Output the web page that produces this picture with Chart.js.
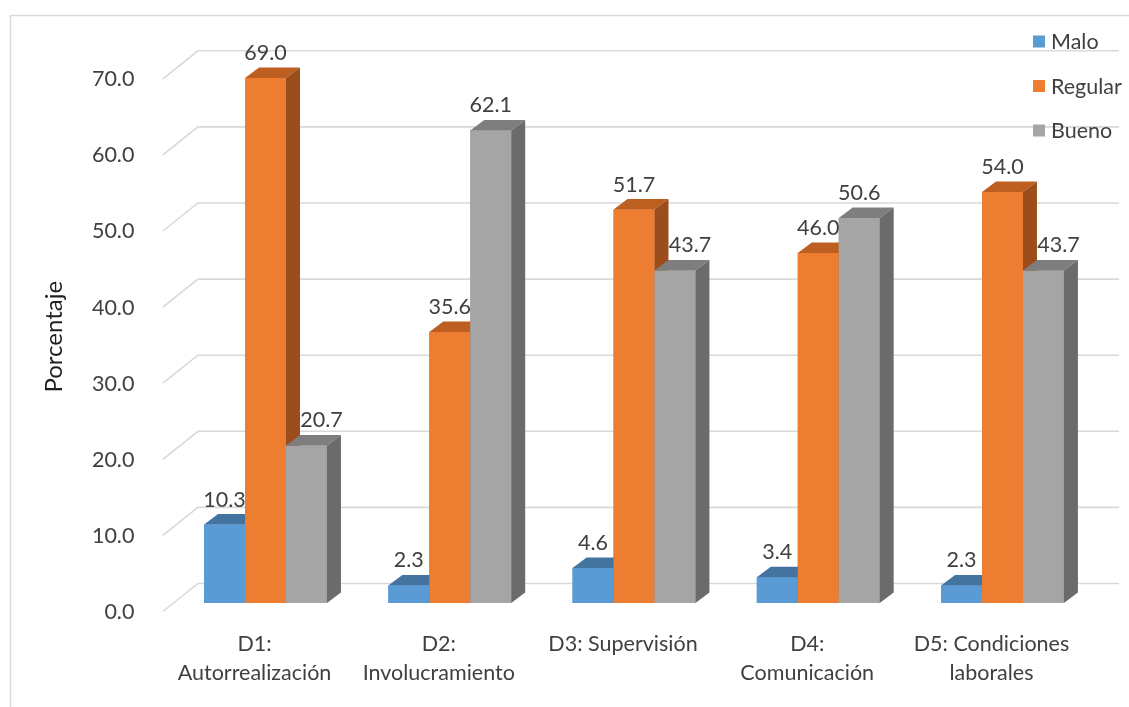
<!DOCTYPE html>
<html>
<head>
<meta charset="utf-8">
<script src="https://cdn.jsdelivr.net/npm/chart.js@4.4.1/dist/chart.umd.min.js"></script>
<style>
  html, body { margin: 0; padding: 0; background: #ffffff; }
  #wrap { width: 1129px; height: 707px; position: relative; }
</style>
</head>
<body>
<div id="wrap"><canvas id="chart" width="1129" height="707"></canvas></div>
<script>
// Dimensiones del clima laboral
const categories = [
  ['D1:', 'Autorrealización'],
  ['D2:', 'Involucramiento'],
  'D3: Supervisión',
  ['D4:', 'Comunicación'],
  ['D5: Condiciones', 'laborales']
];
const seriesNames = ['Malo', 'Regular', 'Bueno'];
const malo    = [10.3, 2.3, 4.6, 3.4, 2.3];
const regular = [69.0, 35.6, 51.7, 46.0, 54.0];
const bueno   = [20.7, 62.1, 43.7, 50.6, 43.7];
const yTickValues = [0, 10, 20, 30, 40, 50, 60, 70];

// Face colours: front, top, side
const faceColors = [
  { front: '#5b9bd5', top: '#43749f', side: '#3c6a94' },
  { front: '#ed7d31', top: '#bd5f20', side: '#9b4e1b' },
  { front: '#a5a5a5', top: '#7e7e7e', side: '#6b6b6b' }
];

const FONT = 'Lato';
const TEXT = '#404040';
const GRID = '#d9d9d9';

// Perspective offsets relative to the bar plane
const FRONT_EDGE = { x: -10.5, y: 8.5 };
const BACK_WALL  = { x: 24.5, y: -19.5 };
const BAR_DEPTH  = { x: 14, y: -10.5 };

Chart.defaults.font.family = FONT;
Chart.defaults.color = TEXT;

function fillPoly(ctx, pts, color) {
  ctx.beginPath();
  ctx.moveTo(pts[0][0], pts[0][1]);
  for (let i = 1; i < pts.length; i++) ctx.lineTo(pts[i][0], pts[i][1]);
  ctx.closePath();
  ctx.fillStyle = color;
  ctx.fill();
}

// Frame, back wall gridlines and their slanted floor edges
const wallPlugin = {
  id: 'wall3d',
  beforeDraw(chart) {
    const ctx = chart.ctx;
    ctx.save();
    ctx.fillStyle = '#ffffff';
    ctx.fillRect(0, 0, chart.width, chart.height);
    ctx.strokeStyle = GRID;
    ctx.lineWidth = 1.5;
    ctx.beginPath();
    ctx.moveTo(10.5, chart.height);
    ctx.lineTo(10.5, 15.5);
    ctx.lineTo(chart.width, 15.5);
    ctx.stroke();
    ctx.restore();
  },
  beforeDatasetsDraw(chart) {
    const { ctx, chartArea: a, scales: { y } } = chart;
    ctx.save();
    ctx.strokeStyle = GRID;
    ctx.lineWidth = 1.6;
    y.ticks.forEach(t => {
      const py = y.getPixelForValue(t.value);
      ctx.beginPath();
      ctx.moveTo(a.left + FRONT_EDGE.x, py + FRONT_EDGE.y);
      ctx.lineTo(a.left + BACK_WALL.x, py + BACK_WALL.y);
      ctx.lineTo(a.right + BACK_WALL.x, py + BACK_WALL.y);
      ctx.stroke();
    });
    ctx.restore();
  }
};

// Extruded bars, value labels and legend
const barsPlugin = {
  id: 'bars3d',
  afterDatasetsDraw(chart) {
    const ctx = chart.ctx;
    const n = chart.data.labels.length;
    ctx.save();
    for (let i = 0; i < n; i++) {
      chart.data.datasets.forEach((ds, di) => {
        const el = chart.getDatasetMeta(di).data[i];
        const { x, y, base, width } = el.getProps(['x', 'y', 'base', 'width'], true);
        const xl = x - width / 2, xr = x + width / 2;
        const c = faceColors[di];
        ctx.fillStyle = c.front;
        ctx.fillRect(xl, y, width, base - y);
        fillPoly(ctx, [[xl, y], [xr, y], [xr + BAR_DEPTH.x, y + BAR_DEPTH.y], [xl + BAR_DEPTH.x, y + BAR_DEPTH.y]], c.top);
        fillPoly(ctx, [[xr, y], [xr + BAR_DEPTH.x, y + BAR_DEPTH.y], [xr + BAR_DEPTH.x, base + BAR_DEPTH.y], [xr, base]], c.side);
      });
    }
    ctx.restore();
  },
  afterDraw(chart) {
    const ctx = chart.ctx;
    const datasets = chart.data.datasets;
    ctx.save();
    ctx.font = '21.5px ' + FONT;
    ctx.fillStyle = TEXT;
    ctx.textAlign = 'center';
    ctx.textBaseline = 'middle';
    datasets.forEach((ds, di) => {
      const meta = chart.getDatasetMeta(di);
      meta.data.forEach((el, i) => {
        const v = ds.data[i];
        // move the label clear of a taller neighbour on its left
        const shift = (di > 0 && datasets[di - 1].data[i] > v) ? 15 : 0;
        ctx.fillText(v.toFixed(1), el.x + shift, el.y - 25);
      });
    });

    // legend
    const rows = [41.5, 86, 130.5];
    ctx.textAlign = 'left';
    datasets.forEach((ds, di) => {
      const cy = rows[di];
      ctx.fillStyle = faceColors[di].front;
      ctx.fillRect(1033, cy - 6, 12, 12);
      ctx.fillStyle = TEXT;
      ctx.fillText(ds.label, 1051, cy + 1);
    });
    ctx.restore();
  }
};

new Chart(document.getElementById('chart'), {
  type: 'bar',
  data: {
    labels: categories,
    datasets: [
      { label: seriesNames[0], data: malo,    backgroundColor: faceColors[0].front },
      { label: seriesNames[1], data: regular, backgroundColor: faceColors[1].front },
      { label: seriesNames[2], data: bueno,   backgroundColor: faceColors[2].front }
    ]
  },
  options: {
    responsive: false,
    animation: false,
    devicePixelRatio: 1,
    layout: { padding: { top: 70.3, right: 34.4, bottom: 0, left: 0 } },
    datasets: { bar: { categoryPercentage: 0.667, barPercentage: 1.0 } },
    plugins: {
      legend: { display: false },
      tooltip: { enabled: false }
    },
    scales: {
      x: {
        grid: { display: false },
        border: { display: false },
        ticks: {
          autoSkip: false,
          maxRotation: 0,
          minRotation: 0,
          padding: 19,
          labelOffset: -11,
          color: TEXT,
          font: { size: 21.5, lineHeight: 1.35 }
        },
        afterFit(s) { s.height = 104; }
      },
      y: {
        min: 0,
        max: 70,
        grid: { display: false },
        border: { display: false },
        afterBuildTicks(s) { s.ticks = yTickValues.map(v => ({ value: v })); },
        ticks: {
          padding: 31,
          labelOffset: 9,
          color: TEXT,
          font: { size: 21.5 },
          callback: v => Number(v).toFixed(1)
        },
        title: {
          display: true,
          text: 'Porcentaje',
          color: '#1f1f1f',
          font: { size: 24 },
          padding: { top: 40, bottom: 0 }
        },
        afterFit(s) { s.width = 173.4; }
      }
    }
  },
  plugins: [wallPlugin, barsPlugin]
});
</script>
</body>
</html>
